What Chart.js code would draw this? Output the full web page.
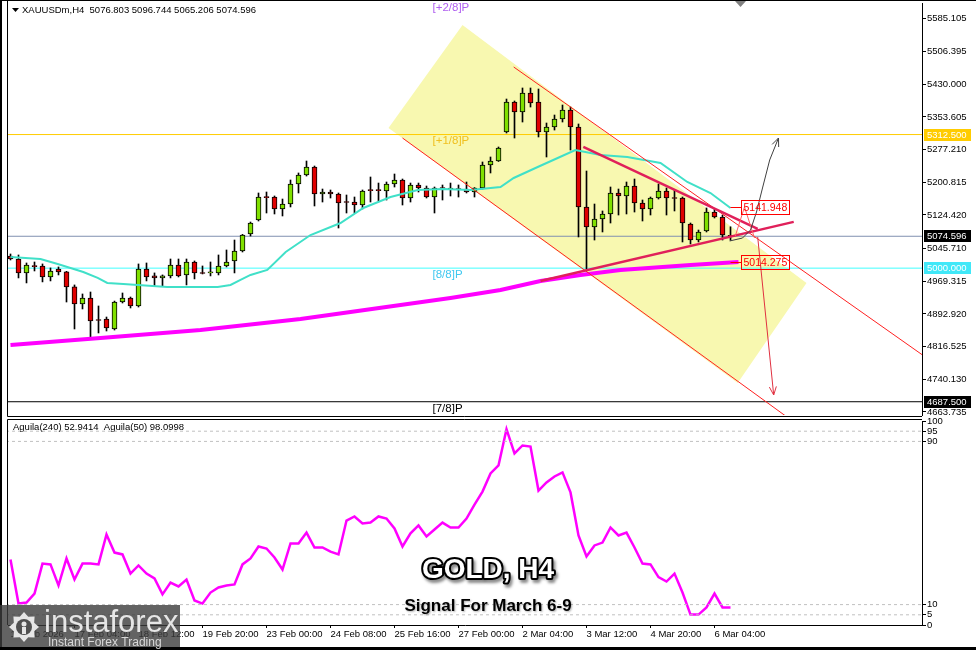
<!DOCTYPE html>
<html>
<head>
<meta charset="utf-8">
<script src="https://cdn.jsdelivr.net/npm/chart.js@4.4.1/dist/chart.umd.min.js"></script>
<style>
  html, body { margin: 0; padding: 0; background: #fff; }
  #wrap { position: relative; width: 976px; height: 650px; overflow: hidden; background: #fff; }
  canvas { position: absolute; left: 0; }
  #main { top: 0; }
  #osc { top: 417px; }
</style>
</head>
<body>
<div id="wrap">
  <canvas id="main" width="976" height="417"></canvas>
  <canvas id="osc" width="976" height="233"></canvas>
</div>
<script>
// XAUUSDm H4 bars
var opens = [5028.4, 5021.4, 4988.8, 5005.1, 5005.1, 4979.4, 4998.1, 4991.1, 4956.1, 4916.1,
  4930.2, 4878.7, 4881.1, 4857.7, 4920.8, 4930.2, 4911.5, 4998.1, 4981.8, 4977.1,
  4981.8, 5007.4, 4984.1, 5014.4, 4988.8, 4988.8, 4988.8, 5005.1, 5016.8, 5040.1,
  5079.9, 5112.6, 5166.4, 5166.4, 5138.4, 5150.0, 5196.8, 5217.9, 5236.6, 5173.4,
  5178.1, 5173.4, 5154.7, 5154.7, 5147.7, 5182.8, 5182.8, 5180.4, 5196.8, 5206.2,
  5164.1, 5194.5, 5187.5, 5166.4, 5187.5, 5185.1, 5185.1, 5185.1, 5178.1, 5187.5,
  5241.3, 5250.6, 5318.5, 5388.6, 5365.2, 5409.7, 5388.6, 5318.5, 5330.1, 5348.9,
  5369.9, 5330.1, 5143.1, 5096.2, 5115.0, 5126.7, 5175.8, 5168.8, 5192.1, 5152.4,
  5138.4, 5164.1, 5180.4, 5164.1, 5164.1, 5103.3, 5065.8, 5086.9, 5131.3, 5119.6,
  5076.803];
var highs = [5033.1, 5030.8, 5012.1, 5014.4, 5009.8, 5000.5, 5002.8, 4992.5, 4960.7, 4939.6,
  4944.2, 4911.5, 4885.7, 4923.0, 4941.9, 4932.5, 5009.8, 5012.1, 4988.8, 4984.1,
  5021.4, 5021.4, 5021.4, 5016.8, 5005.1, 5014.4, 5030.8, 5042.5, 5065.8, 5079.0,
  5107.9, 5175.8, 5178.1, 5168.8, 5161.7, 5206.2, 5222.6, 5250.6, 5238.9, 5185.1,
  5182.8, 5175.8, 5171.1, 5166.4, 5182.8, 5213.2, 5199.1, 5201.5, 5220.2, 5208.5,
  5199.1, 5199.1, 5192.1, 5189.8, 5194.5, 5199.1, 5194.5, 5201.5, 5188.5, 5248.3,
  5260.0, 5283.4, 5395.6, 5391.0, 5421.4, 5421.4, 5419.0, 5339.5, 5358.2, 5381.6,
  5376.9, 5337.2, 5227.2, 5150.0, 5133.7, 5189.8, 5185.1, 5201.5, 5208.5, 5159.4,
  5166.4, 5196.8, 5187.5, 5182.8, 5166.4, 5105.6, 5089.2, 5140.7, 5138.4, 5124.3,
  5096.744];
var lows = [5019.1, 4977.1, 4965.4, 4993.4, 4967.8, 4970.1, 4984.1, 4920.8, 4857.7, 4904.5,
  4839.0, 4848.4, 4853.0, 4855.3, 4918.5, 4906.8, 4909.1, 4970.1, 4958.4, 4958.4,
  4977.1, 4979.4, 4960.7, 4974.8, 4986.4, 4981.8, 4984.1, 5002.8, 4988.8, 5037.8,
  5075.2, 5110.3, 5129.0, 5126.7, 5122.0, 5143.1, 5175.8, 5215.5, 5145.4, 5154.7,
  5164.1, 5093.9, 5129.0, 5129.0, 5138.4, 5154.7, 5157.1, 5159.4, 5189.8, 5147.7,
  5154.7, 5178.1, 5164.1, 5129.0, 5159.4, 5168.8, 5166.4, 5175.8, 5166.4, 5185.1,
  5222.6, 5249.5, 5316.1, 5304.4, 5341.8, 5376.9, 5306.8, 5260.0, 5323.1, 5341.8,
  5276.4, 5072.9, 4998.1, 5065.8, 5084.6, 5105.6, 5124.3, 5126.7, 5131.3, 5110.3,
  5124.3, 5161.7, 5124.3, 5133.7, 5061.2, 5056.5, 5061.2, 5084.6, 5117.3, 5065.8,
  5065.206];
var closes = [5021.4, 4988.8, 5007.4, 5003.5, 4979.4, 4993.4, 4991.1, 4956.1, 4916.1, 4930.2,
  4876.4, 4877.5, 4860.1, 4920.8, 4930.2, 4911.5, 4998.1, 4979.4, 4977.1, 4981.8,
  5007.4, 4981.8, 5014.4, 4988.8, 4987.5, 4990.0, 5005.1, 5014.4, 5040.1, 5077.5,
  5105.6, 5166.4, 5165.0, 5138.4, 5150.0, 5196.8, 5217.9, 5236.6, 5173.4, 5178.1,
  5173.4, 5152.4, 5153.5, 5147.7, 5180.4, 5181.5, 5181.5, 5196.8, 5206.2, 5164.1,
  5194.5, 5187.5, 5166.4, 5187.5, 5186.3, 5186.5, 5184.0, 5178.1, 5187.5, 5241.3,
  5250.6, 5281.0, 5388.6, 5365.2, 5409.7, 5386.3, 5318.5, 5330.1, 5348.9, 5369.9,
  5330.1, 5143.1, 5096.2, 5115.0, 5126.7, 5175.8, 5168.8, 5192.1, 5152.4, 5138.4,
  5164.1, 5180.4, 5164.1, 5163.0, 5105.6, 5065.8, 5084.6, 5131.3, 5119.6, 5077.5,
  5074.596];

// moving averages as [bar, price]
var maFast = [[0, 5026.1], [3.75, 5021.4], [5.9, 5009.8], [7.5, 5000.5], [9.1, 4991.1], [10.9, 4977.1],
  [12.1, 4965.4], [14.1, 4963.1], [19.6, 4956.1], [25.9, 4956.1], [27.5, 4960.7], [28.75, 4972.4],
  [30, 4984.1], [32.1, 4995.8], [34.4, 5037.8], [37.5, 5077.5], [41.25, 5105.6], [44.1, 5140.7],
  [47.5, 5166.4], [50.9, 5182.8], [54.1, 5185.1], [57.5, 5182.8], [61.25, 5189.8], [62.9, 5210.9],
  [65.9, 5236.6], [68.4, 5257.7], [70.6, 5276.4], [73.75, 5264.8], [77.1, 5260.0], [81.25, 5245.9],
  [84.6, 5201.5], [87.5, 5175.8], [90, 5140.7]];
var maSlow = [[0, 4820.2], [11.25, 4836.6], [23.75, 4855.3], [36.25, 4881.1], [48.75, 4913.8],
  [55, 4930.2], [61.25, 4948.9], [66.25, 4970.1], [71.25, 4984.1], [76.25, 4995.8], [85, 5007.4], [91, 5014.3]];

// drawing objects, [bar, price]
var channelBox = [[56.5, 5568.7], [47.25, 5327.8], [90.9, 4731.4], [99.5, 4965.3]];
var channelTop = [[62.9, 5470.5], [114, 4796.9]];
var channelBottom = [[49, 5304.4], [97.2, 4650]];
var wedgeUpper = [[71.6, 5283.4], [93.4, 5091.6]];
var wedgeLower = [[66.25, 4970.1], [97.9, 5108.3]];
var upPath = [[89.9, 5063.5], [91.5, 5070.5], [92.5, 5089.2], [93.25, 5131.3], [94, 5187.5], [94.9, 5253.0], [96, 5304.4]];
var downPath = [[93.4, 5072.9], [95.4, 4703.3]];
var smallV = [[90.6, 5075.2], [91.75, 5143.1], [93, 5070.5]];
var callouts = [5141.948, 5014.275];

var priceTicks = [5585.105, 5506.395, 5430.000, 5353.605, 5277.210, 5200.815, 5124.420,
  5045.710, 4969.315, 4892.920, 4816.525, 4740.130, 4663.735];
var murreyLevels = [5625, 5312.5, 5000, 4687.5];
var murreyNames = ['[+2/8]P', '[+1/8]P', '[8/8]P', '[7/8]P'];
var priceMarks = [5312.5, 5074.596, 5000, 4687.5];

// Aguila(50) oscillator
var aguila = [32.1, 10.5, 11.0, 15.4, 30.1, 29.7, 19.4, 32.6, 22.3, 30.1,
  30.1, 29.7, 44.4, 35.5, 34.6, 25.2, 29.2, 25.2, 22.8, 15.0,
  20.8, 18.9, 22.3, 12.0, 10.5, 15.9, 18.4, 19.4, 19.9, 29.7,
  32.6, 38.5, 37.5, 33.1, 27.2, 40.0, 40.0, 45.3, 38.0, 38.0,
  36.0, 34.6, 51.2, 53.2, 49.8, 50.2, 53.2, 52.2, 47.3, 38.5,
  44.9, 48.8, 43.4, 46.8, 50.2, 47.8, 47.8, 52.2, 59.0, 65.4,
  74.3, 78.2, 96.0, 84.1, 88.0, 87.5, 65.9, 69.9, 72.8, 74.8,
  65.0, 43.9, 33.6, 39.0, 40.4, 47.8, 43.9, 45.3, 38.0, 30.1,
  29.7, 23.5, 21.3, 25.2, 15.9, 5.1, 5.1, 8.6, 15.4, 8.6,
  8.6];
var oscTicks = [0, 5, 10, 90, 95, 100];
var oscLevels = [5, 10, 90, 95];

var tickBars = [0, 8, 16, 24, 32, 40, 48, 56, 64, 72, 80, 88];
var tickLabels = ['15 Feb 2026', '17 Feb 04:00', '18 Feb 12:00', '19 Feb 20:00', '23 Feb 00:00', '24 Feb 08:00',
  '25 Feb 16:00', '27 Feb 00:00', '2 Mar 04:00', '3 Mar 12:00', '4 Mar 20:00', '6 Mar 04:00'];

var fam = '"Liberation Sans", Arial, sans-serif';
Chart.defaults.font.family = fam;
Chart.defaults.font.size = 9.5;
Chart.defaults.color = '#000';

var xMin = -0.3125, xMax = 113.9375;

function pts(list) { return list.map(function (p) { return {x: p[0], y: p[1]}; }); }
function hline(v, color) {
  return {type: 'line', data: [{x: xMin - 1, y: v}, {x: xMax + 1, y: v}], borderColor: color, borderWidth: 1, pointRadius: 0, order: 90};
}
function seg(list, color, w, order) {
  return {type: 'line', data: pts(list), borderColor: color, borderWidth: w, pointRadius: 0, tension: 0, order: order};
}

var wicks = highs.map(function (h, i) { return {x: i, y: [lows[i], h]}; });
var bodies = opens.map(function (o, i) { return {x: i, y: [o, closes[i]]}; });
var bodyColors = opens.map(function (o, i) { return closes[i] >= o ? '#80e000' : '#e00000'; });

function arrowHead(c, a, b, color) {
  var ang = Math.atan2(b.y - a.y, b.x - a.x);
  c.strokeStyle = color;
  c.lineWidth = 1;
  c.beginPath();
  c.moveTo(b.x - 9 * Math.cos(ang - 0.4), b.y - 9 * Math.sin(ang - 0.4));
  c.lineTo(b.x, b.y);
  c.lineTo(b.x - 9 * Math.cos(ang + 0.4), b.y - 9 * Math.sin(ang + 0.4));
  c.stroke();
}

var mainDecor = {
  id: 'mainDecor',
  afterDraw: function (chart) {
    var c = chart.ctx, xs = chart.scales.x, ys = chart.scales.y, a = chart.chartArea;
    function px(p) { return {x: xs.getPixelForValue(p[0]), y: ys.getPixelForValue(p[1])}; }
    c.save();
    // frame
    c.strokeStyle = '#000';
    c.lineWidth = 1;
    c.beginPath();
    c.moveTo(a.left - 0.5, 0); c.lineTo(a.left - 0.5, 416.5); c.lineTo(a.right, 416.5);
    c.stroke();
    c.fillStyle = '#000';
    c.fillRect(0, 0, 2, 417);
    c.fillRect(0, 0, 976, 1);
    // shift marker
    c.fillStyle = '#808080';
    c.beginPath(); c.moveTo(735, 1); c.lineTo(746, 1); c.lineTo(740.5, 7); c.closePath(); c.fill();

    // Murrey labels
    var mColors = ['#b060f0', '#f0c020', '#40c8f0', '#000'];
    c.font = '11.5px ' + fam;
    c.textAlign = 'left';
    c.textBaseline = 'top';
    murreyLevels.forEach(function (v, k) {
      c.fillStyle = mColors[k];
      c.fillText(murreyNames[k], xs.getPixelForValue(52.75), Math.max(ys.getPixelForValue(v), 0) + 1);
    });

    // callout boxes
    c.font = '10.5px ' + fam;
    c.textBaseline = 'middle';
    callouts.forEach(function (v) {
      var y = Math.round(ys.getPixelForValue(v)) + 0.5;
      var x0 = Math.round(xs.getPixelForValue(91.25)) + 0.5;
      c.strokeStyle = '#ff0000';
      c.beginPath(); c.moveTo(xs.getPixelForValue(90), y); c.lineTo(x0, y); c.stroke();
      c.strokeRect(x0, y - 7, 48, 14);
      c.fillStyle = '#ff0000';
      c.fillText(v.toFixed(3), x0 + 2, y + 0.5);
    });

    // arrow heads
    var n = upPath.length;
    arrowHead(c, px(upPath[n - 2]), px(upPath[n - 1]), '#404040');
    arrowHead(c, px(downPath[0]), px(downPath[1]), '#e03040');

    // price boxes on the axis
    c.font = '9.5px ' + fam;
    var bg = ['#ffcc00', '#000', '#40e8f8', '#000'];
    priceMarks.forEach(function (v, k) {
      var y = Math.round(ys.getPixelForValue(v));
      c.fillStyle = bg[k];
      c.fillRect(a.right + 2, y - 6, 47, 12);
      c.fillStyle = '#fff';
      c.fillText(v.toFixed(3), a.right + 5, y + 0.5);
    });

    // title
    c.fillStyle = '#000';
    c.beginPath(); c.moveTo(12, 8); c.lineTo(19, 8); c.lineTo(15.5, 12); c.closePath(); c.fill();
    c.fillText('XAUUSDm,H4  ' + [opens[90], highs[90], lows[90], closes[90]].map(function (v) { return v.toFixed(3); }).join(' '), 22, 10.5);
    c.restore();
  }
};

new Chart(document.getElementById('main'), {
  type: 'bar',
  data: {
    datasets: [
      {type: 'line', data: pts(channelBox), fill: 'shape', backgroundColor: 'rgb(248,248,176)', borderWidth: 0, pointRadius: 0, order: 100},
      hline(5312.5, '#ffcc00'),
      hline(5000, '#40ffff'),
      hline(5074.596, '#8090b0'),
      hline(4687.5, '#000'),
      {data: wicks, backgroundColor: '#000', borderWidth: 0, barThickness: 1, grouped: false, order: 50},
      {data: bodies, backgroundColor: bodyColors, borderColor: '#000', borderWidth: 1, borderSkipped: false,
        barThickness: 5, minBarLength: 1, grouped: false, order: 49},
      seg(maSlow, '#ff00ff', 4, 20),
      seg(maFast, '#40e0c8', 2, 19),
      seg(channelTop, '#ff2020', 1, 10),
      seg(channelBottom, '#ff2020', 1, 10),
      seg(wedgeUpper, '#e0205a', 2.5, 5),
      seg(wedgeLower, '#e0205a', 2.5, 5),
      seg(smallV, '#ff6060', 1, 4),
      seg(upPath, '#404040', 1, 2),
      seg(downPath, '#e03040', 1, 2)
    ]
  },
  options: {
    responsive: false,
    animation: false,
    events: [],
    layout: {padding: {left: 8, top: 3, right: 0, bottom: 2}},
    plugins: {legend: {display: false}, tooltip: {enabled: false}},
    scales: {
      x: {type: 'linear', display: false, offset: false, min: xMin, max: xMax},
      y: {
        position: 'right', min: 4656.5, max: 5620.2,
        afterBuildTicks: function (s) { s.ticks = priceTicks.map(function (v) { return {value: v}; }); },
        afterFit: function (s) { s.width = 54; s.paddingTop = 0; s.paddingBottom = 0; },
        ticks: {callback: function (v) { return v.toFixed(3); }, padding: 1, color: '#000'},
        grid: {drawOnChartArea: false, tickLength: 4, color: '#000'},
        border: {color: '#000'}
      }
    }
  },
  plugins: [mainDecor]
});

var oscDecor = {
  id: 'oscDecor',
  afterDraw: function (chart) {
    var c = chart.ctx, a = chart.chartArea;
    c.save();
    c.strokeStyle = '#000';
    c.lineWidth = 1;
    c.beginPath();
    c.moveTo(a.left - 0.5, 2.5); c.lineTo(a.right, 2.5);
    c.moveTo(a.left - 0.5, 2.5); c.lineTo(a.left - 0.5, a.bottom);
    c.stroke();
    c.fillStyle = '#000';
    c.fillRect(0, 0, 2, 233);
    c.fillRect(0, 230, 976, 3);

    c.font = '9.5px ' + fam;
    c.textAlign = 'left';
    c.textBaseline = 'middle';
    c.fillText('Aguila(240) 52.9414  Aguila(50) 98.0998', 13, 10.5);

    // headline
    c.textAlign = 'center';
    c.font = 'bold 28px "Liberation Sans", Arial, sans-serif';
    c.lineJoin = 'round';
    c.shadowColor = 'rgba(0,0,0,0.45)';
    c.shadowOffsetX = 2; c.shadowOffsetY = 3; c.shadowBlur = 3;
    c.strokeStyle = '#000'; c.lineWidth = 4;
    c.strokeText('GOLD, H4', 488, 153);
    c.shadowColor = 'transparent';
    c.fillStyle = '#fff';
    c.fillText('GOLD, H4', 488, 153);
    c.font = 'bold 17px "Liberation Sans", Arial, sans-serif';
    c.shadowColor = 'rgba(0,0,0,0.3)';
    c.shadowOffsetX = 1; c.shadowOffsetY = 1; c.shadowBlur = 2;
    c.fillStyle = '#000';
    c.fillText('Signal For March 6-9', 488, 189);
    c.shadowColor = 'transparent';

    // watermark
    c.fillStyle = 'rgba(60,60,60,0.8)';
    c.fillRect(0, 188, 180, 42);
    c.fillStyle = '#e6e6e6';
    var gx = 24, gy = 210, k;
    c.beginPath();
    for (k = 0; k < 16; k++) {
      var ang = k * Math.PI / 8, r = (k % 2 === 0) ? 15 : 11;
      c.lineTo(gx + r * Math.cos(ang), gy + r * Math.sin(ang));
    }
    c.closePath();
    c.fill();
    c.fillStyle = '#505050';
    c.beginPath(); c.arc(gx, gy, 8, 0, Math.PI * 2); c.fill();
    c.fillStyle = '#e6e6e6';
    c.beginPath(); c.arc(gx, gy - 3, 2.5, 0, Math.PI * 2); c.fill();
    c.fillRect(gx - 2, gy, 4, 7);
    c.textAlign = 'left';
    c.textBaseline = 'alphabetic';
    c.font = '31px "Liberation Sans", Arial, sans-serif';
    c.fillText('instaforex', 44, 215);
    c.font = '12px "Liberation Sans", Arial, sans-serif';
    c.fillStyle = '#d8d8d8';
    c.fillText('Instant Forex Trading', 48, 229);
    c.restore();
  }
};

var oscData = [];
oscLevels.forEach(function (v) {
  oscData.push({data: [{x: xMin - 1, y: v}, {x: xMax + 1, y: v}], borderColor: '#c0c0c0', borderWidth: 1, borderDash: [3, 3], pointRadius: 0});
});
oscData.push({data: aguila.map(function (v, i) { return {x: i, y: v}; }), borderColor: '#ff00ff', borderWidth: 2.5, pointRadius: 0, tension: 0});

new Chart(document.getElementById('osc'), {
  type: 'line',
  data: {datasets: oscData},
  options: {
    responsive: false,
    animation: false,
    events: [],
    layout: {padding: {left: 8, top: 4, right: 0, bottom: 6}},
    plugins: {legend: {display: false}, tooltip: {enabled: false}},
    scales: {
      x: {
        type: 'linear', min: xMin, max: xMax, offset: false,
        afterBuildTicks: function (s) { s.ticks = tickBars.map(function (v) { return {value: v}; }); },
        afterFit: function (s) { s.height = 19; s.paddingLeft = 0; s.paddingRight = 0; },
        ticks: {callback: function (v) { return tickLabels[tickBars.indexOf(v)]; }, align: 'start', padding: 1, autoSkip: false, maxRotation: 0, color: '#000'},
        grid: {drawOnChartArea: false, tickLength: 3, color: '#000'},
        border: {color: '#000'}
      },
      y: {
        position: 'right', min: 0, max: 100,
        afterBuildTicks: function (s) { s.ticks = oscTicks.map(function (v) { return {value: v}; }); },
        afterFit: function (s) { s.width = 54; s.paddingTop = 0; s.paddingBottom = 0; },
        ticks: {padding: 1, color: '#000'},
        grid: {drawOnChartArea: false, tickLength: 4, color: '#000'},
        border: {color: '#000'}
      }
    }
  },
  plugins: [oscDecor]
});
</script>
</body>
</html>
